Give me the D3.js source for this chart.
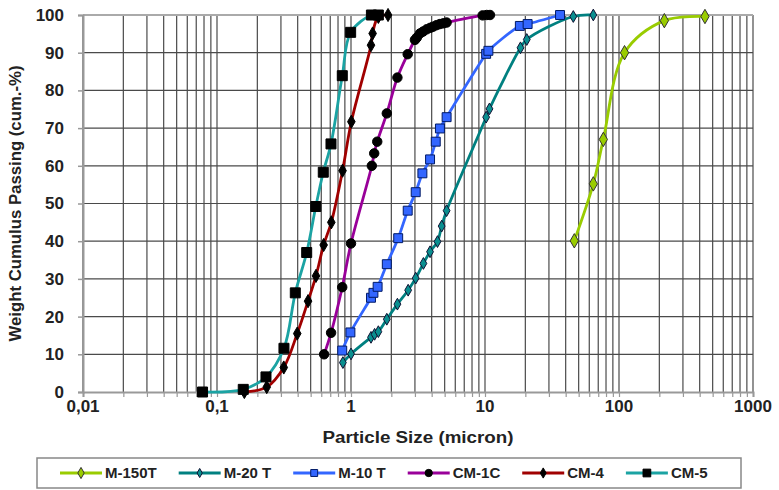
<!DOCTYPE html>
<html>
<head>
<meta charset="utf-8">
<script src="https://cdn.jsdelivr.net/npm/d3@7"></script>
<style>
  body { margin: 0; background: #fff; }
  text { font-family: "Liberation Sans", Arial, sans-serif; font-weight: bold; fill: #222; }
</style>
</head>
<body>
<div id="chart"></div>
<script>
// series names, in legend order
const seriesNames = ["M-150T", "M-20 T", "M-10 T", "CM-1C", "CM-4", "CM-5"]

// particle size (micron) and cumulative passing (%)
const m150tSize = [46.4, 64.3, 76.4, 110, 218, 438]
const m150tPass = [40.1, 55.2, 67, 90, 98.5, 99.6]

const m20tSize = [0.87, 1.0, 1.41, 1.5, 1.6, 1.85, 2.22, 2.67, 3.04, 3.47, 3.89, 4.42, 4.75, 5.17, 10.2, 10.8, 18.4, 20.5, 45.6, 64.3]
const m20tPass = [7.8, 10.1, 14.5, 15.3, 16, 19.3, 23.3, 27, 30.2, 34.1, 37.2, 39.9, 44, 48.1, 72.9, 75.1, 91.3, 93.5, 99.6, 100]

const m10tSize = [0.86, 0.99, 1.41, 1.47, 1.58, 1.85, 2.25, 2.65, 3.04, 3.41, 3.89, 4.29, 4.61, 5.17, 10.2, 10.6, 18.2, 20.8, 36.3]
const m10tPass = [11, 15.8, 25, 26.3, 27.9, 33.9, 40.8, 48.1, 53, 58, 61.7, 66.4, 69.9, 72.9, 89.7, 90.5, 97.1, 97.6, 100]

const cm1cSize = [0.63, 0.71, 0.86, 1.0, 1.43, 1.49, 1.57, 1.85, 2.22, 2.65, 3.0, 3.1, 3.27, 3.45, 3.67, 3.9, 4.1, 4.35, 4.61, 4.9, 5.17, 9.6, 10.3, 10.9]
const cm1cPass = [10, 15.7, 27.8, 39.4, 60, 63.3, 66.4, 73.9, 83.4, 89.6, 93.4, 94, 95.1, 95.6, 96.2, 96.6, 96.9, 97.3, 97.6, 97.8, 98, 99.9, 100, 100]

const cm4Size = [0.16, 0.235, 0.315, 0.397, 0.478, 0.548, 0.625, 0.713, 0.865, 1.006, 1.41, 1.45, 1.6, 1.89]
const cm4Pass = [0, 1.3, 6.5, 15.5, 24.1, 30.8, 39, 45, 58.7, 71.7, 92, 95.1, 99.5, 100]

const cm5Size = [0.078, 0.157, 0.232, 0.316, 0.384, 0.467, 0.546, 0.621, 0.709, 0.861, 0.994, 1.42, 1.6]
const cm5Pass = [0, 0.7, 4, 11.6, 26.3, 37, 49.2, 58.3, 65.8, 83.9, 95.4, 100, 100]

const xTicks = [0.01, 0.1, 1, 10, 100, 1000]
const yTicks = [0, 10, 20, 30, 40, 50, 60, 70, 80, 90, 100]

//----------------------------------------------------------------------------
const width = 779
const height = 490
const margin = { top: 15, right: 26, bottom: 98, left: 83 }

const svg = d3.select("#chart")
    .append("svg")
    .attr("width", width)
    .attr("height", height)

const x = d3.scaleLog()
    .domain([0.01, 1000])
    .range([margin.left, width - margin.right])

const y = d3.scaleLinear()
    .domain([0, 100])
    .range([height - margin.bottom, margin.top])

const comma = d3.formatLocale({ decimal: ",", thousands: ".", grouping: [3], currency: ["", ""] })
const fmt = comma.format("~g")

// every 1..9 step of each decade for the vertical grid
const minorTicks = []
xTicks.slice(0, -1).forEach(d => {
    for (let k = 1; k < 10; k++) minorTicks.push(d * k)
})
minorTicks.push(1000)

//grid
svg.append("g")
    .selectAll("line")
    .data(minorTicks)
    .join("line")
    .attr("x1", d => x(d)).attr("x2", d => x(d))
    .attr("y1", y(0)).attr("y2", y(100))
    .attr("stroke", "#4a4a4a")
    .attr("stroke-width", 1.2)

svg.append("g")
    .selectAll("line")
    .data(yTicks.filter(d => d > 0 && d < 100))
    .join("line")
    .attr("x1", x(0.01)).attr("x2", x(1000))
    .attr("y1", d => y(d)).attr("y2", d => y(d))
    .attr("stroke", "#4a4a4a")
    .attr("stroke-width", 1.2)

// top edge is lighter
svg.append("line")
    .attr("x1", x(0.01)).attr("x2", x(1000))
    .attr("y1", y(100)).attr("y2", y(100))
    .attr("stroke", "#aaa")
    .attr("stroke-width", 2)

//x axis: small ticks under the line, labels on decades
const xAxis = svg.append("g")
    .attr("transform", `translate(0,${y(0)})`)
    .call(d3.axisBottom(x).tickValues(minorTicks).tickSize(5).tickFormat(""))
xAxis.select(".domain").attr("stroke", "#999").attr("stroke-width", 2)
xAxis.selectAll(".tick line").attr("stroke", "#999").attr("stroke-width", 1.2)

svg.append("g")
    .selectAll("text")
    .data(xTicks)
    .join("text")
    .attr("x", d => x(d))
    .attr("y", y(0) + 20)
    .attr("text-anchor", "middle")
    .style("font-size", "17px")
    .text(d => fmt(d))

//y axis
const yAxis = svg.append("g")
    .attr("transform", `translate(${x(0.01)},0)`)
    .call(d3.axisLeft(y).tickValues(yTicks).tickSize(5).tickPadding(14))
yAxis.select(".domain").attr("stroke", "#999").attr("stroke-width", 2)
yAxis.selectAll(".tick line").attr("stroke", "#999").attr("stroke-width", 1.5)
yAxis.selectAll(".tick text")
    .style("font-size", "17px")
    .style("font-family", "Liberation Sans, Arial, sans-serif")
    .attr("fill", "#222")

//axis titles
svg.append("text")
    .attr("x", (x(0.01) + x(1000)) / 2)
    .attr("y", 443)
    .attr("text-anchor", "middle")
    .attr("textLength", 191)
    .attr("lengthAdjust", "spacingAndGlyphs")
    .style("font-size", "16px")
    .text("Particle Size (micron)")

svg.append("text")
    .attr("transform", `translate(21,${(y(0) + y(100)) / 2}) rotate(-90)`)
    .attr("text-anchor", "middle")
    .attr("textLength", 276)
    .attr("lengthAdjust", "spacingAndGlyphs")
    .style("font-size", "16px")
    .text("Weight Cumulus Passing (cum.-%)")

//----------------------------------------------------------------------------
// series table built from the arrays
const zip = (sx, sy) => sx.map((d, i) => ({ size: d, pass: sy[i] }))

const series = [
    { name: seriesNames[0], values: zip(m150tSize, m150tPass), line: "#99cc00", fill: "#99cc00", stroke: "#333", shape: d3.symbolDiamond, size: 60 },
    { name: seriesNames[1], values: zip(m20tSize, m20tPass), line: "#008080", fill: "#0a8f8f", stroke: "#113", shape: d3.symbolDiamond, size: 40 },
    { name: seriesNames[2], values: zip(m10tSize, m10tPass), line: "#3366ff", fill: "#3366ff", stroke: "#001a66", shape: d3.symbolSquare, size: 80 },
    { name: seriesNames[3], values: zip(cm1cSize, cm1cPass), line: "#990099", fill: "#000", stroke: "#000", shape: d3.symbolCircle, size: 70 },
    { name: seriesNames[4], values: zip(cm4Size, cm4Pass), line: "#a00000", fill: "#000", stroke: "#000", shape: d3.symbolDiamond, size: 50 },
    { name: seriesNames[5], values: zip(cm5Size, cm5Pass), line: "#1ba3a3", fill: "#000", stroke: "#000", shape: d3.symbolSquare, size: 100 }
]

const line = d3.line()
    .x(d => x(d.size))
    .y(d => y(d.pass))
    .curve(d3.curveCatmullRom.alpha(0.5))

series.forEach(s => {
    const g = svg.append("g")
    g.append("path")
        .datum(s.values)
        .attr("d", line)
        .attr("fill", "none")
        .attr("stroke", s.line)
        .attr("stroke-width", 2.8)

    g.selectAll("path.pt")
        .data(s.values)
        .join("path")
        .attr("class", "pt")
        .attr("transform", d => `translate(${x(d.size)},${y(d.pass)})`)
        .attr("d", d3.symbol().type(s.shape).size(s.size))
        .attr("fill", s.fill)
        .attr("stroke", s.stroke)
        .attr("stroke-width", 1)
})

//----------------------------------------------------------------------------
//legend
svg.append("rect")
    .attr("x", 37)
    .attr("y", 458)
    .attr("width", 704)
    .attr("height", 30)
    .attr("fill", "#fff")
    .attr("stroke", "#888")
    .attr("stroke-width", 1.5)

let lx = 60
const ly = 473
series.forEach(s => {
    const g = svg.append("g").attr("transform", `translate(${lx},${ly})`)
    g.append("line")
        .attr("x1", 0).attr("x2", 42)
        .attr("stroke", s.line)
        .attr("stroke-width", 2.8)
    g.append("path")
        .attr("transform", "translate(21,0)")
        .attr("d", d3.symbol().type(s.shape).size(s.size * 0.6))
        .attr("fill", s.fill)
        .attr("stroke", s.stroke)
    const t = g.append("text")
        .attr("x", 45)
        .attr("dy", "0.36em")
        .style("font-size", "15px")
        .text(s.name)
    lx += 45 + t.node().getComputedTextLength() + 22
})
</script>
</body>
</html>
